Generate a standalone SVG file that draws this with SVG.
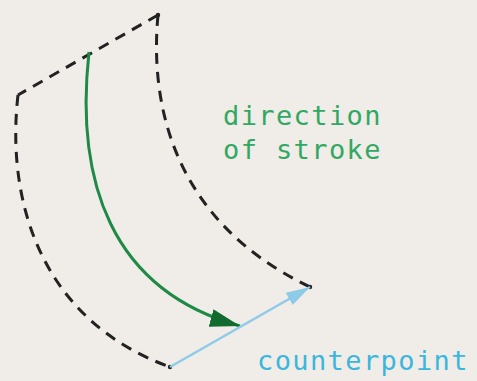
<svg xmlns="http://www.w3.org/2000/svg" width="477" height="381" viewBox="0 0 477 381">
<style>
.dash{fill:none;stroke:#222;stroke-width:3;stroke-dasharray:11 8}
.lbl{font-family:"DejaVu Sans Mono","Liberation Mono",monospace;font-size:27px;letter-spacing:1.4px}
</style>
<defs>
<marker id="ag" markerUnits="userSpaceOnUse" markerWidth="32" markerHeight="20" refX="30" refY="9" orient="auto">
<path d="M0 0 L30 9 L0 18 Z" fill="#116b2e"/>
</marker>
<marker id="ab" markerUnits="userSpaceOnUse" markerWidth="26" markerHeight="16" refX="24" refY="7" orient="auto">
<path d="M0 0 L24 7 L0 14 Z" fill="#8dcbe8"/>
</marker>
</defs>
<rect width="477" height="381" fill="#f0ece8"/>
<g id="outline">
<path class="dash" d="M158 15 L18 95"/>
<path class="dash" d="M18 95 C6 200, 40 320, 170 367"/>
<path class="dash" d="M158 15 C150 100, 170 220, 310 287"/>
<circle cx="158" cy="15" r="2.2" fill="#222"/>
<circle cx="310" cy="287" r="2.2" fill="#222"/>
<circle cx="170" cy="367" r="2.2" fill="#222"/>
</g>
<g id="connectors">
<path d="M89 52 C75 180, 110 290, 240 326" fill="none" stroke="#1f8a46" stroke-width="3" marker-end="url(#ag)"/>
<path d="M170 367 L310 287" fill="none" stroke="#8dcbe8" stroke-width="2.5" marker-end="url(#ab)"/>
</g>
<g id="label-direction">
<text class="lbl" x="223" y="125" fill="#30a862">direction</text>
<text class="lbl" x="223" y="159" fill="#30a862">of stroke</text>
</g>
<g id="label-counterpoint">
<text class="lbl" x="257" y="370" fill="#3bb6dc">counterpoint</text>
</g>
</svg>
